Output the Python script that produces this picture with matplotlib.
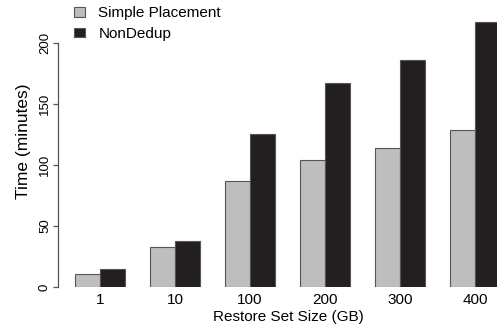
import matplotlib
matplotlib.use("Agg")
import matplotlib.pyplot as plt
from matplotlib.patches import Patch
import numpy as np

plt.rcParams["font.family"] = ["Liberation Sans", "DejaVu Sans"]

sizes = ["1", "10", "100", "200", "300", "400"]
simple_placement = [11, 33, 87, 104, 114, 129]
nondedup = [15, 38, 125, 167, 186, 217]
y_ticks = [0, 50, 100, 150, 200]

W, H = 497, 330
fig = plt.figure(figsize=(W / 100, H / 100), dpi=100)

# axes in pixel terms: left 58, bottom at y=287, right past the figure edge
left_px, right_px, base_px = 58, 522, 287
ax = fig.add_axes([left_px / W, (H - base_px) / H, (right_px - left_px) / W, base_px / H])

# R barplot layout: bar width 1, one unit gap before each group
x0 = np.arange(len(sizes)) * 3 + 1
ax.bar(x0, simple_placement, width=1, align="edge", color="#bebebe",
       edgecolor="#555555", linewidth=0.8)
ax.bar(x0 + 1, nondedup, width=1, align="edge", color="#231f20",
       edgecolor="#555555", linewidth=0.8)

ax.set_xlim((left_px - 50) / 25, (right_px - 50) / 25)
ax.set_ylim(0, base_px / 1.22)

for s in ["top", "right", "bottom"]:
    ax.spines[s].set_visible(False)
ax.spines["left"].set_bounds(0, 200)
ax.spines["left"].set_color("#555555")
ax.spines["left"].set_linewidth(0.9)

ax.set_yticks(y_ticks)
ax.set_yticklabels([str(v) for v in y_ticks], rotation=90, va="center", fontsize=9.5)
ax.tick_params(axis="y", length=3.6, width=0.9, color="#555555", pad=1.5)
ax.set_xticks(x0 + 1)
ax.set_xticklabels(sizes, fontsize=11)
ax.tick_params(axis="x", length=0, pad=4)

fig.text(288 / W, 1 - 317 / H, "Restore Set Size (GB)", ha="center", va="center", fontsize=11)
fig.text(24 / W, 1 - 141 / H, "Time (minutes)", ha="center", va="center",
         rotation=90, fontsize=12.5)

# legend drawn as in R (no frame)
handles = [Patch(facecolor="#bebebe", edgecolor="#555555", linewidth=0.8),
           Patch(facecolor="#231f20", edgecolor="#555555", linewidth=0.8)]
fig.legend(handles, ["Simple Placement", "NonDedup"], loc="upper left",
           bbox_to_anchor=(71 / W, 1 - 3 / H), frameon=False, fontsize=11,
           handlelength=0.7, handleheight=0.6, handletextpad=0.9, labelspacing=0.45,
           borderaxespad=0, borderpad=0.2)

plt.savefig("out.png", dpi=100)
plt.close()
